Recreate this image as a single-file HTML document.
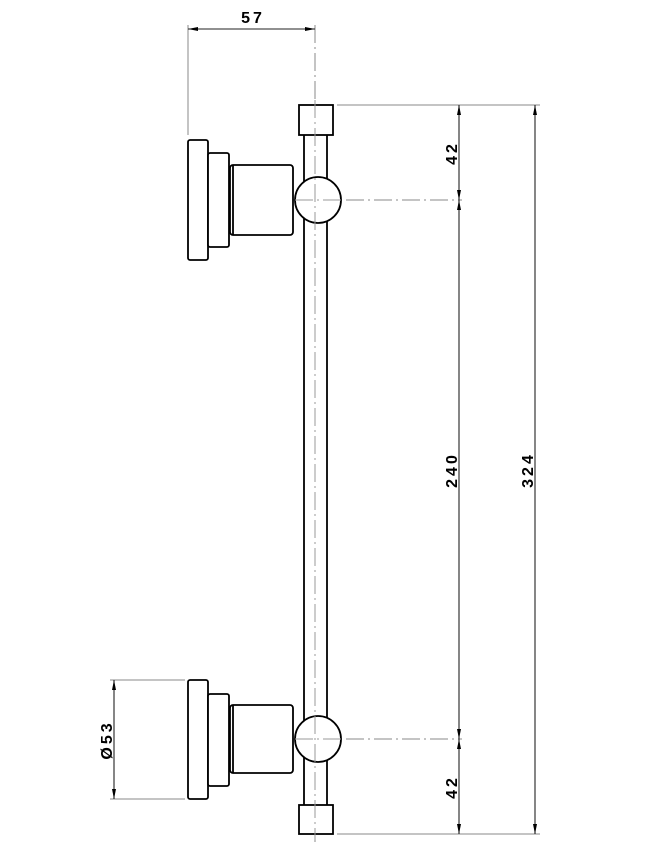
<!DOCTYPE html>
<html><head><style>html,body{margin:0;padding:0;background:#fff}svg{display:block}</style></head><body>
<svg width="654" height="857" viewBox="0 0 654 857" xmlns="http://www.w3.org/2000/svg">
<defs>
<marker id="a" viewBox="0 0 10 4" refX="10" refY="2" markerWidth="10" markerHeight="4" orient="auto-start-reverse" markerUnits="userSpaceOnUse"><path d="M0,0L10,2L0,4z" fill="#000"/></marker>
</defs>
<g fill="none" stroke="#888" stroke-width="1">
<line x1="315" y1="25" x2="315" y2="842" stroke-dasharray="18,4,2,4"/>
<line x1="290" y1="200" x2="462" y2="200" stroke-dasharray="18,4,2,4"/>
<line x1="290" y1="739" x2="462" y2="739" stroke-dasharray="18,4,2,4"/>
<line x1="188" y1="25" x2="188" y2="135"/>
<line x1="337" y1="105" x2="540" y2="105"/>
<line x1="337" y1="834" x2="540" y2="834"/>
<line x1="110" y1="680" x2="185" y2="680"/>
<line x1="110" y1="799" x2="185" y2="799"/>
</g>
<g stroke="#222" stroke-width="1.1" fill="none">
<line x1="188" y1="29" x2="315" y2="29" marker-start="url(#a)" marker-end="url(#a)"/>
<line x1="459" y1="105" x2="459" y2="200" marker-start="url(#a)" marker-end="url(#a)"/>
<line x1="459" y1="200" x2="459" y2="739" marker-start="url(#a)" marker-end="url(#a)"/>
<line x1="459" y1="739" x2="459" y2="834" marker-start="url(#a)" marker-end="url(#a)"/>
<line x1="535" y1="105" x2="535" y2="834" marker-start="url(#a)" marker-end="url(#a)"/>
<line x1="114" y1="680" x2="114" y2="799" marker-start="url(#a)" marker-end="url(#a)"/>
</g>
<g stroke="#000" stroke-width="1.8" fill="#fff">
<rect x="304" y="134" width="23" height="672"/>
<rect x="188" y="140" width="20" height="120" rx="2"/>
<rect x="208" y="153" width="21" height="94" rx="2"/>
<rect x="230" y="165" width="63" height="70" rx="3"/>
<line x1="233" y1="165" x2="233" y2="235"/>
<circle cx="318" cy="200" r="23"/>
<rect x="299" y="105" width="34" height="30"/>
<rect x="188" y="680" width="20" height="119" rx="2"/>
<rect x="208" y="694" width="21" height="92" rx="2"/>
<rect x="230" y="705" width="63" height="68" rx="3"/>
<line x1="233" y1="705" x2="233" y2="773"/>
<circle cx="318" cy="739" r="23"/>
<rect x="299" y="805" width="34" height="29"/>
</g>
<g stroke="#999" stroke-width="1" stroke-dasharray="18,4,2,4">
<line x1="315" y1="100" x2="315" y2="840"/>
<line x1="295" y1="200" x2="345" y2="200"/>
<line x1="295" y1="739" x2="345" y2="739"/>
</g>
<g font-family="Liberation Sans, sans-serif" font-weight="bold" font-size="16" fill="#000" letter-spacing="3" text-anchor="middle">
<text x="253" y="23">57</text>
<text transform="translate(457,153) rotate(-90)">42</text>
<text transform="translate(457,470) rotate(-90)">240</text>
<text transform="translate(457,787) rotate(-90)">42</text>
<text transform="translate(533,470) rotate(-90)">324</text>
<text transform="translate(112,740) rotate(-90)">Ø53</text>
</g>
</svg>
</body></html>
